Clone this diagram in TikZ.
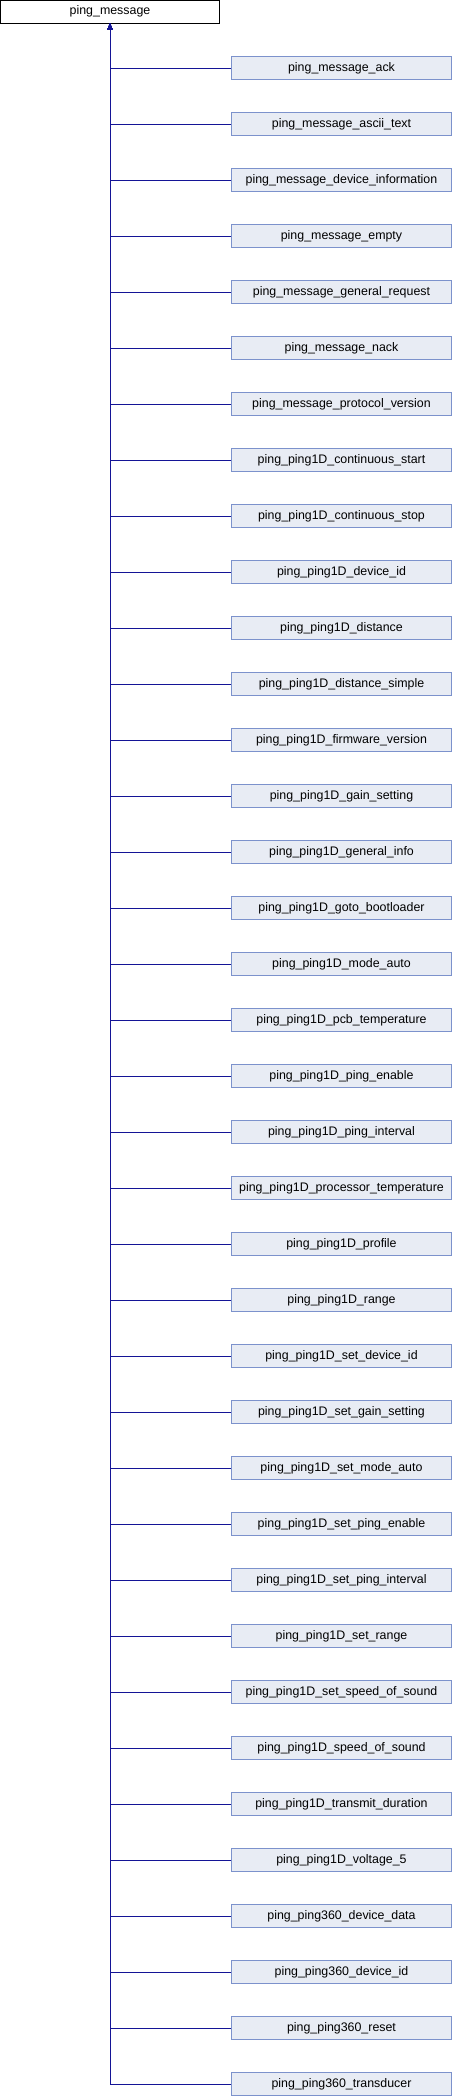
\documentclass[tikz,border=0pt]{standalone}
\usepackage{fontspec}
\setmainfont{Liberation Sans}
\usetikzlibrary{arrows.meta}
\definecolor{boxfill}{RGB}{232,236,244}
\definecolor{boxline}{RGB}{124,146,204}
\definecolor{edgecol}{RGB}{20,20,150}
\begin{document}
\begin{tikzpicture}[x=1pt,y=-1pt,
  basebox/.style={draw=black,fill=white,line width=1pt,minimum width=219pt,minimum height=22.5pt,inner sep=0pt,font=\fontsize{12.4}{14}\selectfont},
  childbox/.style={draw=boxline,fill=boxfill,line width=1pt,minimum width=220pt,minimum height=23pt,inner sep=0pt,font=\fontsize{12.4}{14}\selectfont},
  edge/.style={draw=edgecol,line width=1pt,-{Triangle[width=5pt,length=6pt]}}]
\useasboundingbox (0,0) rectangle (452,2096);
\node[basebox] (top) at (110,11.75) {ping\_message};
\foreach \i/\t in {0/ping\_message\_ack,
1/ping\_message\_ascii\_text,
2/ping\_message\_device\_information,
3/ping\_message\_empty,
4/ping\_message\_general\_request,
5/ping\_message\_nack,
6/ping\_message\_protocol\_version,
7/ping\_ping1D\_continuous\_start,
8/ping\_ping1D\_continuous\_stop,
9/ping\_ping1D\_device\_id,
10/ping\_ping1D\_distance,
11/ping\_ping1D\_distance\_simple,
12/ping\_ping1D\_firmware\_version,
13/ping\_ping1D\_gain\_setting,
14/ping\_ping1D\_general\_info,
15/ping\_ping1D\_goto\_bootloader,
16/ping\_ping1D\_mode\_auto,
17/ping\_ping1D\_pcb\_temperature,
18/ping\_ping1D\_ping\_enable,
19/ping\_ping1D\_ping\_interval,
20/ping\_ping1D\_processor\_temperature,
21/ping\_ping1D\_profile,
22/ping\_ping1D\_range,
23/ping\_ping1D\_set\_device\_id,
24/ping\_ping1D\_set\_gain\_setting,
25/ping\_ping1D\_set\_mode\_auto,
26/ping\_ping1D\_set\_ping\_enable,
27/ping\_ping1D\_set\_ping\_interval,
28/ping\_ping1D\_set\_range,
29/ping\_ping1D\_set\_speed\_of\_sound,
30/ping\_ping1D\_speed\_of\_sound,
31/ping\_ping1D\_transmit\_duration,
32/ping\_ping1D\_voltage\_5,
33/ping\_ping360\_device\_data,
34/ping\_ping360\_device\_id,
35/ping\_ping360\_reset,
36/ping\_ping360\_transducer}{
  \node[childbox] (c\i) at (341.5,{68+56*\i}) {\t};
  \draw[edge] (c\i.west) -| (top.south);
}
\end{tikzpicture}
\end{document}
